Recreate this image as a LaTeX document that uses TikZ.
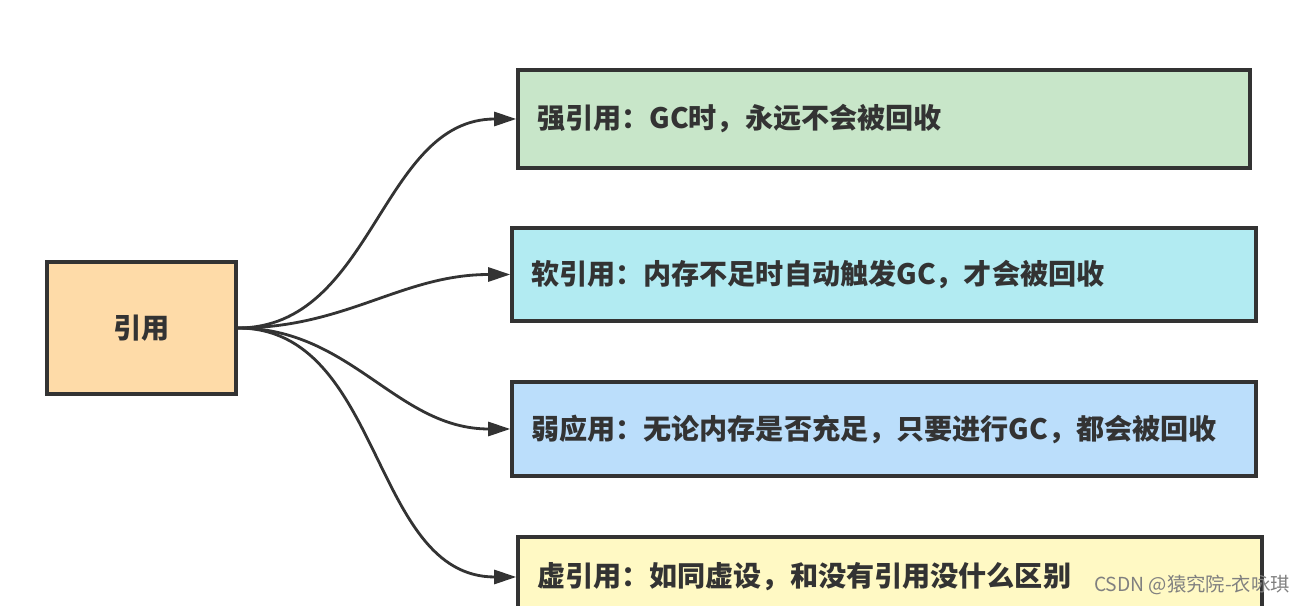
\documentclass[tikz,border=0pt]{standalone}
\usepackage{fontspec}
\setmainfont{Noto Sans CJK SC}
\usetikzlibrary{arrows.meta}

\definecolor{edgegray}{HTML}{333333}
\definecolor{refcol}{HTML}{FEDBA8}
\definecolor{strongcol}{HTML}{C8E6C9}
\definecolor{softcol}{HTML}{B2EBF2}
\definecolor{weakcol}{HTML}{BBDEFB}
\definecolor{phantomcol}{HTML}{FFF9C4}

\begin{document}
\begin{tikzpicture}[>={Triangle[length=0.44cm, width=0.28cm]},
    refbox/.style={draw=edgegray, line width=2pt, minimum width=3.78cm, minimum height=2.64cm,
        inner sep=0pt, font=\fontsize{16}{18}\selectfont\bfseries, text=edgegray},
    kindbox/.style={draw=edgegray, line width=2pt, inner xsep=0.38cm, inner ysep=0pt,
        align=left, font=\fontsize{16}{18}\selectfont\bfseries, text=edgegray}]
    \clip (0,0) rectangle (26.14,12.12);
    \useasboundingbox (0,0) rectangle (26.14,12.12);

    % reference kinds
    \node (ref) at (2.83,5.56) [refbox, fill=refcol] {引用};

    \node (strong) at (17.68,9.74) [kindbox, fill=strongcol, text width=13.88cm, minimum height=1.96cm] {强引用：GC时，永远不会被回收};
    \node (soft) at (17.68,6.63) [kindbox, fill=softcol, text width=14.12cm, minimum height=1.86cm] {软引用：内存不足时自动触发GC，才会被回收};
    \node (weak) at (17.68,3.54) [kindbox, fill=weakcol, text width=14.12cm, minimum height=1.88cm] {弱应用：无论内存是否充足，只要进行GC，都会被回收};
    \node (phantom) at (17.80,0.58) [kindbox, fill=phantomcol, text width=14.12cm, minimum height=1.6cm] {虚引用：如同虚设，和没有引用没什么区别};

    \draw [->, line width=1.6pt, edgegray] (ref.east) to[out=0, in=180] (strong.west);
    \draw [->, line width=1.6pt, edgegray] (ref.east) to[out=0, in=180] (soft.west);
    \draw [->, line width=1.6pt, edgegray] (ref.east) to[out=0, in=180] (weak.west);
    \draw [->, line width=1.6pt, edgegray] (ref.east) to[out=0, in=180] (phantom.west);

    \node (mark) at (23.84,0.42) [text=gray, font=\fontsize{11}{13}\selectfont] {CSDN @猿究院-衣咏琪};
\end{tikzpicture}
\end{document}
